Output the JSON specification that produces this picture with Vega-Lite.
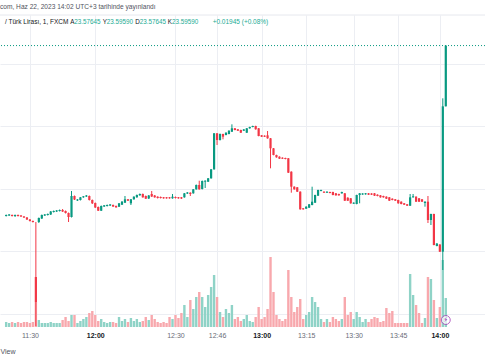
{
"$schema": "https://vega.github.io/schema/vega-lite/v6.json",
"width": 485, "height": 312,
"autosize": {"type": "none"},
"padding": {"top": 15, "left": 0, "right": 0, "bottom": 33},
"background": "#ffffff",
"config": {"view": {"stroke": null}, "font": "Liberation Sans"},
"title": {"text": "com, Haz 22, 2023 14:02 UTC+3 tarihinde yayınlandı", "anchor": "start", "frame": "group", "fontSize": 6.6, "fontWeight": "normal", "color": "#50535e", "offset": 4},
"datasets": {
"candles": [
{"i":0,"o":23.54136,"c":23.54168,"h":23.54184,"l":23.5412,"v":5},
{"i":1,"o":23.54152,"c":23.54184,"h":23.542,"l":23.54136,"v":4},
{"i":2,"o":23.54168,"c":23.54136,"h":23.54184,"l":23.5412,"v":5},
{"i":3,"o":23.54136,"c":23.54168,"h":23.54184,"l":23.54104,"v":4},
{"i":4,"o":23.54168,"c":23.54136,"h":23.54184,"l":23.5412,"v":5},
{"i":5,"o":23.54152,"c":23.5412,"h":23.54168,"l":23.54104,"v":4},
{"i":6,"o":23.5412,"c":23.54088,"h":23.54136,"l":23.54072,"v":5},
{"i":7,"o":23.54088,"c":23.54024,"h":23.54104,"l":23.54008,"v":5},
{"i":8,"o":23.54024,"c":23.53976,"h":23.5404,"l":23.5396,"v":4},
{"i":9,"o":23.53976,"c":23.53944,"h":23.53992,"l":23.53928,"v":5},
{"i":10,"o":23.52184,"c":23.51384,"h":23.53944,"l":23.50616,"v":25},
{"i":11,"o":23.53944,"c":23.54072,"h":23.54088,"l":23.53912,"v":7},
{"i":12,"o":23.54056,"c":23.54168,"h":23.54184,"l":23.5404,"v":4},
{"i":13,"o":23.54152,"c":23.54184,"h":23.542,"l":23.54136,"v":4},
{"i":14,"o":23.54168,"c":23.542,"h":23.54216,"l":23.54152,"v":4},
{"i":15,"o":23.54184,"c":23.5428,"h":23.54296,"l":23.54168,"v":5},
{"i":16,"o":23.54264,"c":23.54296,"h":23.54312,"l":23.54248,"v":4},
{"i":17,"o":23.5428,"c":23.54312,"h":23.54328,"l":23.54264,"v":4},
{"i":18,"o":23.54296,"c":23.54328,"h":23.54344,"l":23.5428,"v":4},
{"i":19,"o":23.54328,"c":23.5428,"h":23.5436,"l":23.54264,"v":7},
{"i":20,"o":23.54296,"c":23.54232,"h":23.54312,"l":23.54216,"v":10},
{"i":21,"o":23.54232,"c":23.54104,"h":23.54248,"l":23.53944,"v":6},
{"i":22,"o":23.54104,"c":23.54776,"h":23.54936,"l":23.54088,"v":12},
{"i":23,"o":23.54776,"c":23.54664,"h":23.54792,"l":23.54648,"v":12},
{"i":24,"o":23.54632,"c":23.54664,"h":23.5468,"l":23.54616,"v":4},
{"i":25,"o":23.54648,"c":23.54734,"h":23.54744,"l":23.54632,"v":6},
{"i":26,"o":23.54734,"c":23.54766,"h":23.54776,"l":23.54718,"v":8},
{"i":27,"o":23.5476,"c":23.54792,"h":23.54808,"l":23.54744,"v":10},
{"i":28,"o":23.54776,"c":23.54648,"h":23.54792,"l":23.54632,"v":14},
{"i":29,"o":23.54648,"c":23.54542,"h":23.54664,"l":23.5452,"v":16},
{"i":30,"o":23.54552,"c":23.54408,"h":23.54568,"l":23.54392,"v":12},
{"i":31,"o":23.54424,"c":23.54306,"h":23.5444,"l":23.54296,"v":6},
{"i":32,"o":23.54306,"c":23.54456,"h":23.54472,"l":23.54296,"v":8},
{"i":33,"o":23.5444,"c":23.54478,"h":23.54488,"l":23.54424,"v":5},
{"i":34,"o":23.54456,"c":23.54488,"h":23.54504,"l":23.5444,"v":4},
{"i":35,"o":23.54472,"c":23.54504,"h":23.5452,"l":23.54456,"v":5},
{"i":36,"o":23.54488,"c":23.5444,"h":23.54504,"l":23.54424,"v":5},
{"i":37,"o":23.54456,"c":23.54414,"h":23.54472,"l":23.54398,"v":4},
{"i":38,"o":23.54434,"c":23.54542,"h":23.54552,"l":23.54424,"v":10},
{"i":39,"o":23.54498,"c":23.54594,"h":23.54616,"l":23.54488,"v":6},
{"i":40,"o":23.54562,"c":23.5467,"h":23.54776,"l":23.54552,"v":8},
{"i":41,"o":23.5467,"c":23.54626,"h":23.5468,"l":23.54616,"v":5},
{"i":42,"o":23.54542,"c":23.5467,"h":23.5468,"l":23.54488,"v":9},
{"i":43,"o":23.5467,"c":23.54754,"h":23.54766,"l":23.54658,"v":6},
{"i":44,"o":23.54734,"c":23.54808,"h":23.54824,"l":23.54722,"v":8},
{"i":45,"o":23.54798,"c":23.5484,"h":23.54856,"l":23.54786,"v":5},
{"i":46,"o":23.5484,"c":23.54734,"h":23.54856,"l":23.54722,"v":6},
{"i":47,"o":23.54776,"c":23.5469,"h":23.54792,"l":23.5468,"v":10},
{"i":48,"o":23.54696,"c":23.54792,"h":23.54808,"l":23.5468,"v":7},
{"i":49,"o":23.5484,"c":23.5476,"h":23.54936,"l":23.54744,"v":12},
{"i":50,"o":23.54792,"c":23.54734,"h":23.54808,"l":23.54722,"v":8},
{"i":51,"o":23.54754,"c":23.54712,"h":23.54766,"l":23.54696,"v":5},
{"i":52,"o":23.54744,"c":23.54712,"h":23.5476,"l":23.54696,"v":4},
{"i":53,"o":23.54734,"c":23.54702,"h":23.54744,"l":23.5469,"v":5},
{"i":54,"o":23.54734,"c":23.54702,"h":23.54744,"l":23.5469,"v":4},
{"i":55,"o":23.54734,"c":23.54702,"h":23.54744,"l":23.5469,"v":10},
{"i":56,"o":23.54702,"c":23.54754,"h":23.5484,"l":23.5469,"v":8},
{"i":57,"o":23.54744,"c":23.54712,"h":23.5476,"l":23.54696,"v":12},
{"i":58,"o":23.54734,"c":23.54702,"h":23.54744,"l":23.5469,"v":9},
{"i":59,"o":23.54734,"c":23.54696,"h":23.54744,"l":23.5468,"v":14},
{"i":60,"o":23.54734,"c":23.54862,"h":23.54872,"l":23.54722,"v":22},
{"i":61,"o":23.54856,"c":23.54888,"h":23.54904,"l":23.5484,"v":10},
{"i":62,"o":23.54882,"c":23.5484,"h":23.54894,"l":23.54776,"v":27},
{"i":63,"o":23.54862,"c":23.5499,"h":23.55,"l":23.5485,"v":18},
{"i":64,"o":23.5499,"c":23.55128,"h":23.55144,"l":23.54978,"v":30},
{"i":65,"o":23.55128,"c":23.5499,"h":23.55266,"l":23.54978,"v":35},
{"i":66,"o":23.55,"c":23.55256,"h":23.55272,"l":23.54984,"v":30},
{"i":67,"o":23.55234,"c":23.55266,"h":23.55278,"l":23.55032,"v":20},
{"i":68,"o":23.55234,"c":23.55342,"h":23.55352,"l":23.55224,"v":32},
{"i":69,"o":23.55342,"c":23.5563,"h":23.5564,"l":23.5533,"v":40},
{"i":70,"o":23.5563,"c":23.56782,"h":23.56792,"l":23.55618,"v":52},
{"i":71,"o":23.56782,"c":23.56568,"h":23.56792,"l":23.56408,"v":30},
{"i":72,"o":23.56568,"c":23.5676,"h":23.56776,"l":23.56552,"v":15},
{"i":73,"o":23.5676,"c":23.56674,"h":23.5677,"l":23.5659,"v":10},
{"i":74,"o":23.56728,"c":23.56802,"h":23.56814,"l":23.56718,"v":18},
{"i":75,"o":23.5676,"c":23.56866,"h":23.56878,"l":23.5675,"v":14},
{"i":76,"o":23.56834,"c":23.56942,"h":23.5707,"l":23.56824,"v":22},
{"i":77,"o":23.56942,"c":23.56888,"h":23.56952,"l":23.56878,"v":8},
{"i":78,"o":23.5691,"c":23.56866,"h":23.5692,"l":23.56856,"v":10},
{"i":79,"o":23.56888,"c":23.56802,"h":23.56898,"l":23.56792,"v":6},
{"i":80,"o":23.56866,"c":23.56904,"h":23.5692,"l":23.56856,"v":8},
{"i":81,"o":23.56802,"c":23.56942,"h":23.56952,"l":23.56792,"v":12},
{"i":82,"o":23.56942,"c":23.56984,"h":23.56994,"l":23.5693,"v":6},
{"i":83,"o":23.56984,"c":23.57016,"h":23.57026,"l":23.56974,"v":5},
{"i":84,"o":23.57016,"c":23.5691,"h":23.57026,"l":23.56898,"v":10},
{"i":85,"o":23.56942,"c":23.56696,"h":23.56952,"l":23.56686,"v":20},
{"i":86,"o":23.56718,"c":23.56674,"h":23.56728,"l":23.56664,"v":8},
{"i":87,"o":23.56706,"c":23.56674,"h":23.56718,"l":23.56664,"v":10},
{"i":88,"o":23.56718,"c":23.56622,"h":23.56856,"l":23.5661,"v":18},
{"i":89,"o":23.56622,"c":23.56302,"h":23.56632,"l":23.55662,"v":70},
{"i":90,"o":23.56302,"c":23.56088,"h":23.56312,"l":23.56078,"v":35},
{"i":91,"o":23.56088,"c":23.56014,"h":23.56098,"l":23.56002,"v":12},
{"i":92,"o":23.56034,"c":23.5597,"h":23.56046,"l":23.5596,"v":8},
{"i":93,"o":23.56002,"c":23.5597,"h":23.56014,"l":23.5596,"v":6},
{"i":94,"o":23.55992,"c":23.5596,"h":23.56002,"l":23.5595,"v":8},
{"i":95,"o":23.55982,"c":23.55522,"h":23.55992,"l":23.55512,"v":57},
{"i":96,"o":23.55554,"c":23.55074,"h":23.55566,"l":23.54882,"v":30},
{"i":97,"o":23.55074,"c":23.5499,"h":23.55086,"l":23.54978,"v":15},
{"i":98,"o":23.55054,"c":23.54914,"h":23.55064,"l":23.54904,"v":20},
{"i":99,"o":23.54914,"c":23.5435,"h":23.54926,"l":23.54338,"v":28},
{"i":100,"o":23.54382,"c":23.5435,"h":23.54392,"l":23.54338,"v":8},
{"i":101,"o":23.5437,"c":23.54434,"h":23.54446,"l":23.5436,"v":12},
{"i":102,"o":23.54402,"c":23.5451,"h":23.5452,"l":23.54392,"v":15},
{"i":103,"o":23.54488,"c":23.54594,"h":23.55074,"l":23.54478,"v":30},
{"i":104,"o":23.54562,"c":23.54808,"h":23.54818,"l":23.54552,"v":25},
{"i":105,"o":23.54786,"c":23.54968,"h":23.54978,"l":23.54776,"v":20},
{"i":106,"o":23.54936,"c":23.54968,"h":23.54978,"l":23.54926,"v":8},
{"i":107,"o":23.54914,"c":23.54882,"h":23.54926,"l":23.54872,"v":5},
{"i":108,"o":23.54882,"c":23.54914,"h":23.54926,"l":23.54872,"v":8},
{"i":109,"o":23.54904,"c":23.54872,"h":23.54914,"l":23.54862,"v":5},
{"i":110,"o":23.54904,"c":23.54808,"h":23.54914,"l":23.54798,"v":10},
{"i":111,"o":23.54862,"c":23.54798,"h":23.54872,"l":23.54786,"v":8},
{"i":112,"o":23.5484,"c":23.54798,"h":23.5485,"l":23.54786,"v":6},
{"i":113,"o":23.54862,"c":23.54904,"h":23.54914,"l":23.5485,"v":8},
{"i":114,"o":23.54862,"c":23.54626,"h":23.54872,"l":23.54616,"v":30},
{"i":115,"o":23.54722,"c":23.54626,"h":23.54734,"l":23.54616,"v":12},
{"i":116,"o":23.54702,"c":23.54542,"h":23.54712,"l":23.5453,"v":15},
{"i":117,"o":23.5453,"c":23.54562,"h":23.54574,"l":23.5452,"v":8},
{"i":118,"o":23.5452,"c":23.54808,"h":23.54818,"l":23.5451,"v":15},
{"i":119,"o":23.54808,"c":23.54862,"h":23.54872,"l":23.54542,"v":10},
{"i":120,"o":23.54824,"c":23.54856,"h":23.54866,"l":23.54814,"v":5},
{"i":121,"o":23.5483,"c":23.54862,"h":23.54872,"l":23.54818,"v":8},
{"i":122,"o":23.54862,"c":23.54818,"h":23.54872,"l":23.54808,"v":5},
{"i":123,"o":23.54856,"c":23.54818,"h":23.54866,"l":23.54808,"v":8},
{"i":124,"o":23.54862,"c":23.54786,"h":23.54872,"l":23.54776,"v":10},
{"i":125,"o":23.54818,"c":23.54776,"h":23.5483,"l":23.54766,"v":9},
{"i":126,"o":23.54798,"c":23.54734,"h":23.54808,"l":23.54722,"v":5},
{"i":127,"o":23.54776,"c":23.54734,"h":23.54786,"l":23.54722,"v":6},
{"i":128,"o":23.54754,"c":23.5469,"h":23.54766,"l":23.5468,"v":19},
{"i":129,"o":23.54734,"c":23.54626,"h":23.54744,"l":23.54616,"v":14},
{"i":130,"o":23.5469,"c":23.54648,"h":23.54702,"l":23.54638,"v":16},
{"i":131,"o":23.5467,"c":23.54626,"h":23.5468,"l":23.54616,"v":4},
{"i":132,"o":23.54648,"c":23.54542,"h":23.54658,"l":23.5453,"v":4},
{"i":133,"o":23.54594,"c":23.5452,"h":23.54606,"l":23.5451,"v":4},
{"i":134,"o":23.54542,"c":23.54498,"h":23.54552,"l":23.54488,"v":4},
{"i":135,"o":23.5451,"c":23.54466,"h":23.5452,"l":23.54456,"v":4},
{"i":136,"o":23.54466,"c":23.54734,"h":23.5484,"l":23.54456,"v":53},
{"i":137,"o":23.54734,"c":23.54766,"h":23.5484,"l":23.54722,"v":32},
{"i":138,"o":23.54754,"c":23.54594,"h":23.54766,"l":23.54584,"v":22},
{"i":139,"o":23.54702,"c":23.54594,"h":23.54712,"l":23.54584,"v":14},
{"i":140,"o":23.5467,"c":23.54594,"h":23.5468,"l":23.54584,"v":4},
{"i":141,"o":23.54552,"c":23.54594,"h":23.54606,"l":23.54434,"v":9},
{"i":142,"o":23.54594,"c":23.54008,"h":23.54776,"l":23.53912,"v":50},
{"i":143,"o":23.54008,"c":23.542,"h":23.5421,"l":23.53848,"v":48},
{"i":144,"o":23.542,"c":23.53208,"h":23.5421,"l":23.53198,"v":27},
{"i":145,"o":23.53176,"c":23.53256,"h":23.53266,"l":23.53166,"v":9},
{"i":146,"o":23.53224,"c":23.52994,"h":23.53234,"l":23.52984,"v":20},
{"i":147,"o":23.52994,"c":23.57645,"h":23.57902,"l":23.52408,"v":67},
{"i":148,"o":23.57645,"c":23.5959,"h":23.5959,"l":23.57645,"v":29}
],
"events": [{"i": 148, "v": 7, "s": "⚡"}],
"legend": [{"sym": "/ Türk Lirası, 1, FXCM", "o": "23.57645", "h": "23.59590", "l": "23.57645", "c": "23.59590", "chg": "+0.01945 (+0.08%)", "last": 23.5959, "top": 23.60568}]
},
"layer": [
{
"layer": [
{
"data": {"name": "candles"},
"mark": {"type": "bar", "width": 2.4},
"encoding": {
"x": {"field": "i", "type": "quantitative", "scale": {"domain": [-0.39, 159.52], "nice": false, "zero": false},
"axis": {"values": [8, 30, 57, 71, 86, 101, 117, 132, 146],
"labelExpr": "datum.value==8?'11:30':datum.value==30?'12:00':datum.value==57?'12:30':datum.value==71?'12:46':datum.value==86?'13:00':datum.value==101?'13:15':datum.value==117?'13:30':datum.value==132?'13:45':'14:00'",
"grid": true, "gridColor": "#eceef3", "domain": false, "ticks": false, "tickSize": 0,
"labelFontSize": 7, "labelPadding": 4, "labelFont": "Liberation Sans",
"labelColor": {"condition": {"test": "datum.value==30||datum.value==86||datum.value==146", "value": "#131722"}, "value": "#6a6d78"},
"labelFontWeight": {"condition": {"test": "datum.value==30||datum.value==86||datum.value==146", "value": "bold"}, "value": "normal"},
"title": "View", "titleAnchor": "start", "titleFontSize": 7, "titleFontWeight": "normal", "titleColor": "#50535e", "titlePadding": 9}},
"y": {"field": "v", "type": "quantitative", "scale": {"domain": [0, 312]}, "axis": null},
"color": {"condition": {"test": "datum.c>=datum.o", "value": "#8fd3c7"}, "value": "#f8a8ad"}
}
},
{
"data": {"name": "events"},
"mark": {"type": "point", "shape": "circle", "size": 80, "filled": true, "fill": "#ffffff", "stroke": "#9c27b0", "strokeWidth": 1},
"encoding": {
"x": {"field": "i", "type": "quantitative"},
"y": {"field": "v", "type": "quantitative", "scale": {"domain": [0, 312]}, "axis": null}
}
},
{
"data": {"name": "events"},
"mark": {"type": "text", "fontSize": 7, "color": "#9c27b0", "font": "DejaVu Sans"},
"encoding": {
"x": {"field": "i", "type": "quantitative"},
"y": {"field": "v", "type": "quantitative", "scale": {"domain": [0, 312]}, "axis": null},
"text": {"field": "s"}
}
}
]
},
{
"layer": [
{
"data": {"name": "candles"},
"mark": {"type": "rule", "strokeWidth": 1},
"encoding": {
"x": {"field": "i", "type": "quantitative"},
"y": {"field": "l", "type": "quantitative", "scale": {"domain": [23.50584, 23.60568], "nice": false, "zero": false},
"axis": {"values": [23.51, 23.52, 23.53, 23.54, 23.55, 23.56, 23.57, 23.58, 23.59, 23.6], "grid": true, "gridColor": "#eceef3", "labels": false, "ticks": false, "domain": false, "title": null}},
"y2": {"field": "h"},
"color": {"condition": {"test": "datum.c>=datum.o", "value": "#089981"}, "value": "#f23645"}
}
},
{
"data": {"name": "candles"},
"mark": {"type": "bar", "width": 2.2},
"encoding": {
"x": {"field": "i", "type": "quantitative"},
"y": {"field": "o", "type": "quantitative"},
"y2": {"field": "c"},
"color": {"condition": {"test": "datum.c>=datum.o", "value": "#089981"}, "value": "#f23645"}
}
},
{
"data": {"name": "legend"},
"mark": {"type": "rule", "color": "#e6e8ee", "strokeWidth": 1},
"encoding": {"y": {"field": "top", "type": "quantitative"}}
},
{
"data": {"name": "legend"},
"mark": {"type": "rule", "strokeDash": [1, 2], "color": "#089981", "strokeWidth": 1},
"encoding": {"y": {"field": "last", "type": "quantitative"}}
},
{
"data": {"name": "legend"},
"mark": {"type": "text", "align": "left", "baseline": "middle", "fontSize": 6.5, "color": "#131722", "font": "Liberation Sans"},
"encoding": {"x": {"datum": -0.39, "type": "quantitative"}, "y": {"datum": 23.60344, "type": "quantitative"}, "text": {"field": "sym"}}
},
{
"data": {"name": "legend"},
"mark": {"type": "text", "align": "left", "baseline": "middle", "fontSize": 6.3, "color": "#131722", "font": "Liberation Sans"},
"encoding": {"x": {"datum": 21.54, "type": "quantitative"}, "y": {"datum": 23.60344, "type": "quantitative"}, "text": {"value": "A"}}
},
{
"data": {"name": "legend"},
"mark": {"type": "text", "align": "left", "baseline": "middle", "fontSize": 6.3, "color": "#22ab94", "font": "Liberation Sans"},
"encoding": {"x": {"datum": 22.92, "type": "quantitative"}, "y": {"datum": 23.60344, "type": "quantitative"}, "text": {"field": "o"}}
},
{
"data": {"name": "legend"},
"mark": {"type": "text", "align": "left", "baseline": "middle", "fontSize": 6.3, "color": "#131722", "font": "Liberation Sans"},
"encoding": {"x": {"datum": 32.52, "type": "quantitative"}, "y": {"datum": 23.60344, "type": "quantitative"}, "text": {"value": "Y"}}
},
{
"data": {"name": "legend"},
"mark": {"type": "text", "align": "left", "baseline": "middle", "fontSize": 6.3, "color": "#22ab94", "font": "Liberation Sans"},
"encoding": {"x": {"datum": 33.9, "type": "quantitative"}, "y": {"datum": 23.60344, "type": "quantitative"}, "text": {"field": "h"}}
},
{
"data": {"name": "legend"},
"mark": {"type": "text", "align": "left", "baseline": "middle", "fontSize": 6.3, "color": "#131722", "font": "Liberation Sans"},
"encoding": {"x": {"datum": 43.46, "type": "quantitative"}, "y": {"datum": 23.60344, "type": "quantitative"}, "text": {"value": "D"}}
},
{
"data": {"name": "legend"},
"mark": {"type": "text", "align": "left", "baseline": "middle", "fontSize": 6.3, "color": "#22ab94", "font": "Liberation Sans"},
"encoding": {"x": {"datum": 44.94, "type": "quantitative"}, "y": {"datum": 23.60344, "type": "quantitative"}, "text": {"field": "l"}}
},
{
"data": {"name": "legend"},
"mark": {"type": "text", "align": "left", "baseline": "middle", "fontSize": 6.3, "color": "#131722", "font": "Liberation Sans"},
"encoding": {"x": {"datum": 54.41, "type": "quantitative"}, "y": {"datum": 23.60344, "type": "quantitative"}, "text": {"value": "K"}}
},
{
"data": {"name": "legend"},
"mark": {"type": "text", "align": "left", "baseline": "middle", "fontSize": 6.3, "color": "#22ab94", "font": "Liberation Sans"},
"encoding": {"x": {"datum": 55.79, "type": "quantitative"}, "y": {"datum": 23.60344, "type": "quantitative"}, "text": {"field": "c"}}
},
{
"data": {"name": "legend"},
"mark": {"type": "text", "align": "left", "baseline": "middle", "fontSize": 6.5, "color": "#22ab94", "font": "Liberation Sans"},
"encoding": {"x": {"datum": 69.51, "type": "quantitative"}, "y": {"datum": 23.60344, "type": "quantitative"}, "text": {"field": "chg"}}
}
]
}
],
"resolve": {"scale": {"y": "independent"}}
}
